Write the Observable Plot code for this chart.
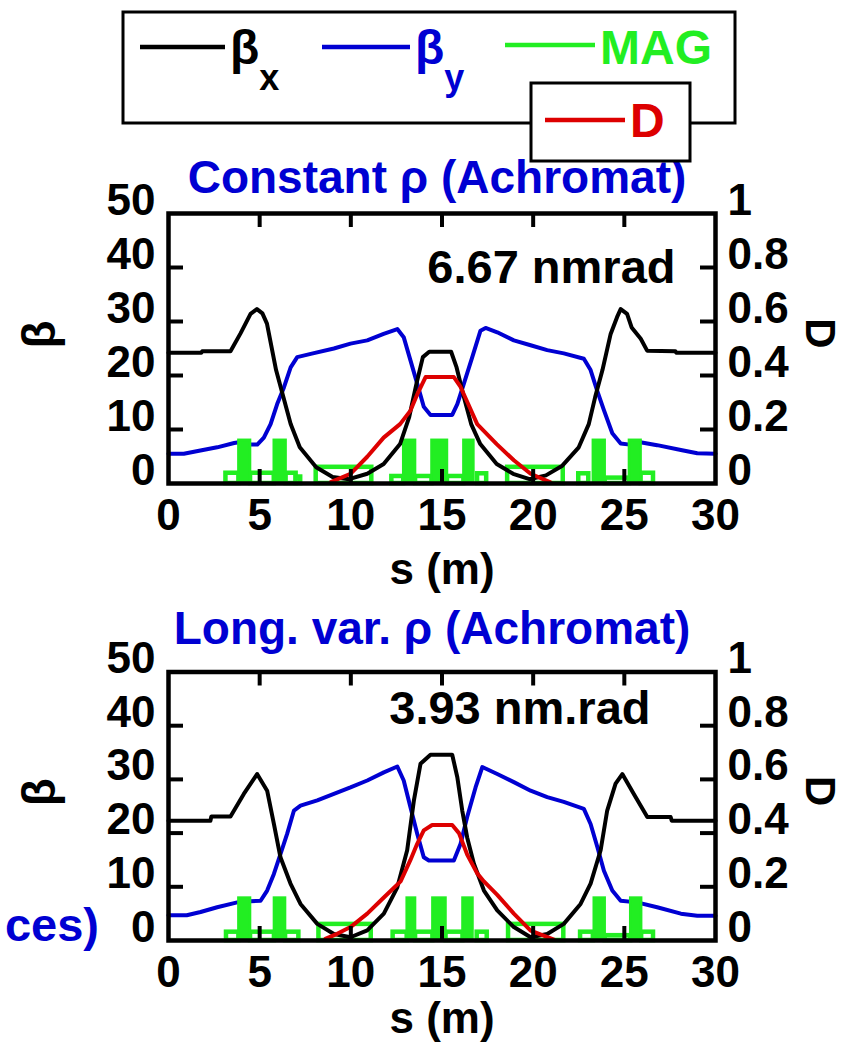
<!DOCTYPE html>
<html><head><meta charset="utf-8">
<script src="https://cdn.jsdelivr.net/npm/d3@7"></script>
<script src="https://cdn.jsdelivr.net/npm/@observablehq/plot@0.6"></script>
<style>
body{margin:0;background:#fff;}
#root{position:relative;width:848px;height:1045px;overflow:hidden;background:#fff;font-family:"Liberation Sans",Arial,sans-serif;font-weight:bold;}
#root svg{position:absolute;left:0;overflow:visible;}
</style></head><body><div id="root"></div>
<script>
const BLACK = "#000000", BLUE = "#0000d2", GREEN = "#22ee22", RED = "#dd0000";
const FONT = "'Liberation Sans', Arial, sans-serif";

// ---- tick labels / axis ticks ----
const xTicks = [0, 5, 10, 15, 20, 25, 30];
const xInnerTicks = [5, 10, 15, 20, 25];
const yTicks = [0, 10, 20, 30, 40, 50];
const yInnerTicks = [10, 20, 30, 40];
const dTickLabels = ["0", "0.2", "0.4", "0.6", "0.8", "1"];
const dMax = 1, betaMax = 50;

// ---- Panel 1 : Constant rho (Achromat) ----
const p1_bx_s = [0, 1.8, 1.85, 3.4, 3.95, 4.5, 4.85, 5.15, 5.4, 5.9, 6.3, 6.7, 7.2, 8.1, 9.0, 9.9, 10.9, 11.8, 12.7, 13.2, 13.6, 13.95, 14.3, 15.5, 15.8, 16.2, 16.6, 17.1, 18.0, 18.9, 19.8, 20.7, 21.6, 22.5, 23.05, 23.4, 23.8, 24.25, 24.6, 24.8, 25.15, 25.4, 25.9, 26.25, 27.8, 27.85, 30];
const p1_bx_v = [24.2, 24.2, 24.5, 24.5, 27.8, 31.4, 32.3, 31.5, 29.6, 21, 16, 11, 6.7, 3.0, 1.2, 0.8, 1.8, 3.6, 7.3, 12.3, 18.5, 23.4, 24.4, 24.4, 21.5, 16, 11, 7.3, 3.6, 1.8, 0.8, 1.5, 3.3, 6.7, 11, 16, 21, 27.7, 30.8, 32.3, 31.4, 28.9, 26.8, 24.6, 24.5, 24.2, 24.2];
const p1_by_s = [0, 0.84, 1.75, 2.67, 3.6, 3.96, 4.5, 4.87, 5.23, 5.6, 5.96, 6.33, 6.7, 7.06, 7.8, 9.07, 9.98, 10.9, 11.8, 12.55, 12.9, 13.27, 13.64, 14.0, 14.37, 15.56, 15.84, 16.2, 16.66, 17.11, 17.39, 18.03, 18.94, 19.86, 20.77, 21.68, 22.78, 23.15, 23.5, 23.88, 24.34, 24.8, 25.3, 25.8, 26.8, 28.1, 29.0, 30];
const p1_by_v = [5.5, 5.5, 6.1, 6.7, 7.5, 7.7, 7.2, 7.2, 8.5, 11, 14.7, 17.8, 21.5, 23.4, 24, 25, 25.9, 26.5, 27.7, 28.6, 27.1, 22.8, 18.5, 14.2, 12.7, 12.7, 14.7, 18.5, 23.4, 28.3, 28.8, 28, 26.5, 25.6, 24.7, 24.1, 23.1, 21, 17.3, 13.6, 9.3, 7.4, 7.2, 7.7, 7.1, 6.2, 5.6, 5.5];
const p1_d_s = [8.9, 9.98, 10.9, 11.8, 12.7, 13.27, 13.64, 14.1, 15.65, 16.0, 16.4, 16.93, 18.0, 18.94, 19.86, 20.95];
const p1_d_v = [0.005, 0.036, 0.099, 0.17, 0.22, 0.27, 0.33, 0.394, 0.394, 0.36, 0.30, 0.22, 0.146, 0.086, 0.036, 0.004];
const p1_mag_s0 = [3.15, 3.86, 4.5, 5.8, 6.45, 7.0, 8.1, 12.25, 12.9, 13.55, 14.45, 15.3, 16.2, 16.95, 18.6, 22.5, 23.3, 23.95, 25.28, 25.92];
const p1_mag_s1 = [3.86, 4.5, 5.8, 6.45, 7.0, 7.25, 11.15, 12.9, 13.55, 14.45, 15.3, 16.2, 16.75, 17.45, 21.65, 23.05, 23.95, 25.28, 25.92, 26.6];
const p1_mag_h = [1.9, 8, 1.9, 8, 1.9, 1.2, 3.0, 1.3, 8, 1.3, 8, 1.3, 8, 1.8, 3.0, 1.8, 8, 1.0, 8, 1.9];

// ---- Panel 2 : Long. var. rho (Achromat) ----
const p2_bx_s = [0, 2.3, 2.35, 3.4, 4.13, 4.86, 5.41, 5.78, 6.14, 6.69, 7.24, 8.16, 9.07, 9.98, 10.9, 11.81, 12.55, 13.09, 13.46, 13.82, 14.37, 15.56, 15.84, 16.11, 16.38, 16.75, 17.3, 18.03, 18.94, 19.86, 20.77, 21.68, 22.6, 23.15, 23.7, 24.06, 24.52, 24.89, 25.52, 26.26, 27.54, 27.6, 30];
const p2_bx_v = [22.3, 22.3, 23.1, 23.1, 27.3, 31, 27.9, 21.7, 15.5, 10.6, 6.8, 3.1, 1.2, 0.6, 1.9, 5.0, 9.9, 16.8, 26.1, 32.9, 34.6, 34.6, 30.4, 24.2, 19.2, 14.3, 9.3, 5.6, 2.5, 0.6, 1.2, 3.1, 6.8, 10.6, 16.8, 24.2, 29.2, 31, 27.3, 23.0, 23.0, 22.3, 22.3];
const p2_by_s = [0, 1.0, 1.76, 2.67, 3.77, 4.5, 5.05, 5.41, 5.78, 6.14, 6.51, 6.88, 7.24, 8.16, 9.07, 9.98, 10.9, 11.81, 12.55, 12.9, 13.27, 13.64, 14.0, 14.28, 15.65, 16.02, 16.38, 16.84, 17.21, 18.03, 18.94, 19.86, 20.77, 21.68, 22.78, 23.15, 23.52, 23.88, 24.34, 24.8, 25.7, 26.8, 28.1, 29.0, 30];
const p2_by_v = [4.7, 4.7, 5.3, 6.2, 7.1, 7.3, 7.4, 9.3, 12.4, 16.1, 19.9, 24.2, 25.1, 26.1, 27.3, 28.5, 29.8, 31.3, 32.4, 29.8, 24.8, 19.9, 15.5, 14.9, 14.9, 18.0, 23.0, 28.5, 32.3, 31.0, 29.5, 27.9, 26.7, 25.8, 24.5, 21.7, 17.4, 13.0, 9.3, 7.4, 7.1, 6.2, 5.0, 4.6, 4.6];
const p2_d_s = [8.6, 9.25, 9.98, 10.9, 11.81, 12.73, 13.27, 13.64, 14.0, 14.46, 15.56, 15.93, 16.38, 16.93, 17.3, 18.03, 18.94, 19.86, 21.14];
const p2_d_v = [0.006, 0.025, 0.05, 0.1, 0.16, 0.22, 0.30, 0.36, 0.41, 0.43, 0.43, 0.40, 0.32, 0.25, 0.22, 0.17, 0.10, 0.037, 0.003];
const p2_mag_s0 = [3.18, 3.86, 4.5, 5.81, 6.42, 8.25, 12.32, 13.09, 13.55, 14.5, 15.22, 16.15, 16.93, 18.65, 22.6, 23.35, 23.95, 25.35, 25.95];
const p2_mag_s1 = [3.86, 4.5, 5.81, 6.42, 7.15, 11.12, 13.09, 13.55, 14.5, 15.22, 16.15, 16.7, 17.48, 21.68, 23.3, 23.95, 25.35, 25.95, 26.6];
const p2_mag_h = [1.55, 7.9, 1.55, 7.9, 1.55, 3.0, 1.55, 7.9, 1.55, 7.9, 1.55, 7.9, 1.55, 3.0, 1.55, 7.9, 0.9, 7.9, 1.55];

const zip = (s, v) => s.map((x, i) => ({s: x, v: v[i]}));
const zipMag = (a, b, h) => a.map((x, i) => ({s0: x, s1: b[i], h: h[i]}));

const root = document.getElementById("root");
const W = 848, ML = 168, MR = 133;
const FW = W - ML - MR;

function panel(cfg) {
  const FH = cfg.height - cfg.marginTop - cfg.marginBottom;
  const bx = zip(cfg.bxS, cfg.bxV), by = zip(cfg.byS, cfg.byV), dd = zip(cfg.dS, cfg.dV);
  const mag = zipMag(cfg.m0, cfg.m1, cfg.mh);
  const isQuad = d => d.h > 5;
  const txt = {fontFamily: FONT, fontWeight: "bold"};
  const svg = Plot.plot({
    width: W, height: cfg.height,
    marginLeft: ML, marginRight: MR, marginTop: cfg.marginTop, marginBottom: cfg.marginBottom,
    style: {fontFamily: FONT, fontWeight: "bold", fontSize: "44px", background: "transparent", color: BLACK, overflow: "visible"},
    x: {domain: [0, 30]},
    y: {domain: [0, betaMax]},
    marks: [
      Plot.line(by, {x: "s", y: "v", stroke: BLUE, strokeWidth: 4}),
      Plot.rect(mag.filter(d => !isQuad(d)), {x1: "s0", x2: "s1", y1: 0, y2: "h", fill: "none", stroke: GREEN, strokeWidth: 4.5}),
      Plot.rect(mag.filter(isQuad), {x1: "s0", x2: "s1", y1: 0, y2: "h", fill: GREEN, stroke: GREEN, strokeWidth: 2.5}),
      Plot.line(bx, {x: "s", y: "v", stroke: BLACK, strokeWidth: 4}),
      Plot.line(dd, {x: "s", y: d => d.v / dMax * betaMax, stroke: RED, strokeWidth: 4}),
      Plot.tickY(yInnerTicks, {y: d => d, insetRight: FW - 15, stroke: BLACK, strokeWidth: 4}),
      Plot.tickY(yInnerTicks, {y: d => d, insetLeft: FW - 15, stroke: BLACK, strokeWidth: 4}),
      Plot.tickX(xInnerTicks, {x: d => d, insetBottom: FH - 14, stroke: BLACK, strokeWidth: 4}),
      Plot.tickX(xInnerTicks, {x: d => d, insetTop: FH - 14, stroke: BLACK, strokeWidth: 4}),
      Plot.frame({stroke: BLACK, strokeWidth: 4.5}),
      Plot.axisX({anchor: "bottom", ticks: xTicks, tickSize: 0, tickPadding: 15, label: null, fontSize: 44, ...txt, fill: BLACK}),
      Plot.axisY({anchor: "left", ticks: yTicks, tickSize: 0, tickPadding: 13, dy: -13, label: null, fontSize: 44, ...txt, fill: BLACK}),
      Plot.axisY({anchor: "right", ticks: yTicks, tickSize: 0, tickPadding: 12, dy: -13, label: null, fontSize: 44, ...txt, fill: BLACK,
                  tickFormat: v => dTickLabels[yTicks.indexOf(v)]}),
      Plot.text([cfg.title], {text: d => d, frameAnchor: "top", dx: cfg.titleDx, dy: cfg.titleDy, fill: BLUE, fontSize: 46, lineAnchor: "middle", ...txt}),
      Plot.text([cfg.note], {text: d => d, frameAnchor: "top-right", dx: cfg.noteDx, dy: cfg.noteDy, textAnchor: "end", lineAnchor: "top", fontSize: 47, fill: BLACK, ...txt}),
      Plot.text(["β"], {text: d => d, frameAnchor: "left", dx: -128, rotate: -90, fontSize: 46, fill: BLACK, ...txt}),
      Plot.text(["D"], {text: d => d, frameAnchor: "right", dx: 104, rotate: 90, fontSize: 42, fill: BLACK, ...txt}),
      Plot.text(["s (m)"], {text: d => d, frameAnchor: "bottom", dy: cfg.labelDy, fontSize: 44, fill: BLACK, lineAnchor: "middle", ...txt})
    ]
  });
  svg.style.top = cfg.top + "px";
  root.appendChild(svg);
}

panel({top: 150, height: 440, marginTop: 63, marginBottom: 107,
  bxS: p1_bx_s, bxV: p1_bx_v, byS: p1_by_s, byV: p1_by_v, dS: p1_d_s, dV: p1_d_v,
  m0: p1_mag_s0, m1: p1_mag_s1, mh: p1_mag_h,
  title: "Constant ρ (Achromat)", titleDx: -5, titleDy: -35,
  note: "6.67 nmrad", noteDx: -40, noteDy: 36, labelDy: 86});

panel({top: 600, height: 445, marginTop: 71.5, marginBottom: 105,
  bxS: p2_bx_s, bxV: p2_bx_v, byS: p2_by_s, byV: p2_by_v, dS: p2_d_s, dV: p2_d_v,
  m0: p2_mag_s0, m1: p2_mag_s1, mh: p2_mag_h,
  title: "Long. var. ρ (Achromat)", titleDx: -10, titleDy: -43,
  note: "3.93 nm.rad", noteDx: -65, noteDy: 19, labelDy: 78});

// ---- legend ----
const legendItems = [
  {label: "β", sub: "x", color: BLACK, x1: 140, x2: 225, ly: 47, tx: 230},
  {label: "β", sub: "y", color: BLUE, x1: 322, x2: 410, ly: 47, tx: 415},
  {label: "MAG", sub: "", color: GREEN, x1: 505, x2: 595, ly: 45, tx: 600}
];
const lg = d3.create("svg").attr("width", W).attr("height", 200).style("top", "0px")
  .style("font-family", FONT).style("font-weight", "bold");
lg.append("rect").attr("x", 123).attr("y", 12).attr("width", 612).attr("height", 111)
  .attr("fill", "none").attr("stroke", BLACK).attr("stroke-width", 3);
for (const it of legendItems) {
  lg.append("line").attr("x1", it.x1).attr("x2", it.x2).attr("y1", it.ly).attr("y2", it.ly)
    .attr("stroke", it.color).attr("stroke-width", 4.5);
  const t = lg.append("text").attr("x", it.tx).attr("y", 64).attr("fill", it.color).attr("font-size", 48).text(it.label);
  if (it.sub) t.append("tspan").attr("font-size", 36).attr("dy", 26).text(it.sub);
}
lg.append("rect").attr("x", 531).attr("y", 83).attr("width", 159).attr("height", 78)
  .attr("fill", "#fff").attr("stroke", BLACK).attr("stroke-width", 3);
lg.append("line").attr("x1", 545).attr("x2", 625).attr("y1", 120).attr("y2", 120)
  .attr("stroke", RED).attr("stroke-width", 4.5);
lg.append("text").attr("x", 630).attr("y", 137).attr("fill", RED).attr("font-size", 48).text("D");
root.appendChild(lg.node());

// ---- side text fragment ----
const side = d3.create("svg").attr("width", 120).attr("height", 60).style("top", "895px")
  .style("font-family", FONT).style("font-weight", "bold");
side.append("text").attr("x", 99).attr("y", 46).attr("text-anchor", "end").attr("fill", BLUE)
  .attr("font-size", 47).text("ces)");
root.appendChild(side.node());
</script></body></html>
